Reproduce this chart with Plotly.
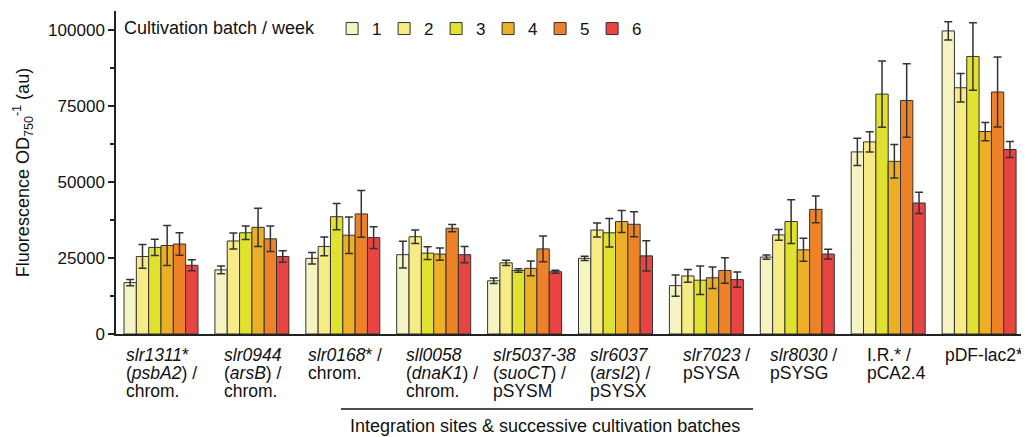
import plotly.graph_objects as go

categories = [
    "slr1311* (psbA2) / chrom.",
    "slr0944 (arsB) / chrom.",
    "slr0168* / chrom.",
    "sll0058 (dnaK1) / chrom.",
    "slr5037-38 (suoCT) / pSYSM",
    "slr6037 (arsI2) / pSYSX",
    "slr7023 / pSYSA",
    "slr8030 / pSYSG",
    "I.R.* / pCA2.4",
    "pDF-lac2*",
]

label_lines = [
    ["<i>slr1311</i>*", "(<i>psbA2</i>) /", "chrom."],
    ["<i>slr0944</i>", "(<i>arsB</i>) /", "chrom."],
    ["<i>slr0168</i>* /", "chrom."],
    ["<i>sll0058</i>", "(<i>dnaK1</i>) /", "chrom."],
    ["<i>slr5037-38</i>", "(<i>suoCT</i>) /", "pSYSM"],
    ["<i>slr6037</i>", "(<i>arsI2</i>) /", "pSYSX"],
    ["<i>slr7023</i> /", "pSYSA"],
    ["<i>slr8030</i> /", "pSYSG"],
    ["I.R.* /", "pCA2.4"],
    ["pDF-lac2*"],
]

batches = ["1", "2", "3", "4", "5", "6"]

week1 = [16900, 21100, 24900, 26100, 17500, 24900, 15900, 25300, 59900, 99700]
week2 = [25500, 30600, 28800, 32000, 23400, 34200, 19100, 32600, 63200, 81000]
week3 = [28500, 33300, 38600, 26600, 20900, 33300, 17700, 37000, 78900, 91300]
week4 = [29100, 35100, 32500, 26300, 21600, 37000, 18500, 27700, 56800, 66600]
week5 = [29600, 31300, 39500, 34800, 28000, 36100, 20900, 41000, 76800, 79600]
week6 = [22600, 25500, 31700, 26100, 20500, 25700, 17900, 26300, 43100, 60700]

err1 = [1000, 1300, 1900, 4400, 900, 700, 3500, 700, 4500, 3000]
err2 = [3900, 2600, 3100, 2200, 900, 2300, 2100, 1800, 3300, 4700]
err3 = [2700, 2200, 4300, 2100, 600, 4700, 4700, 7200, 10900, 11100]
err4 = [6600, 6300, 6000, 2000, 2400, 3600, 3500, 3800, 5500, 3000]
err5 = [3700, 4200, 7700, 1200, 4200, 4100, 4200, 4400, 12100, 11500]
err6 = [1800, 1900, 3600, 2700, 500, 5000, 2500, 1600, 3500, 2600]

values = [week1, week2, week3, week4, week5, week6]
errors = [err1, err2, err3, err4, err5, err6]
colors = ["#F7F4C4", "#F6EB85", "#E1E22F", "#EDAF26", "#EE8228", "#E84441"]

# left offset of each category label block relative to group centre (category units)
label_offsets = [-0.407, -0.325, -0.41, -0.325, -0.37, -0.30, -0.28, -0.32, -0.26, -0.40]

FONT = "Liberation Sans, Arial, Helvetica, sans-serif"
x_idx = list(range(len(categories)))

fig = go.Figure()
for name, vals, errs, col in zip(batches, values, errors, colors):
    fig.add_trace(go.Bar(
        x=x_idx, y=vals, name=name,
        marker=dict(color=col, line=dict(color="#333333", width=1)),
        error_y=dict(type="data", array=errs, visible=True,
                     color="#333333", thickness=1.5, width=4),
        hovertext=categories,
    ))

annotations = []
line_shifts = [-21, -39, -56.5]
for i, lines in enumerate(label_lines):
    for j, txt in enumerate(lines):
        annotations.append(dict(
            x=i + label_offsets[i], xref="x", xanchor="left",
            y=0, yref="paper", yanchor="middle", yshift=line_shifts[j],
            text=txt, showarrow=False, align="left",
            font=dict(family=FONT, size=17.5, color="#111"),
        ))
annotations.append(dict(
    x=0.472, xref="paper", xanchor="center",
    y=0, yref="paper", yanchor="middle", yshift=-92,
    text="Integration sites & successive cultivation batches", showarrow=False,
    font=dict(family=FONT, size=18, color="#111"),
))

fig.update_layout(
    width=1021, height=429,
    margin=dict(l=108, r=4, t=3, b=103, pad=0),
    paper_bgcolor="white", plot_bgcolor="white",
    barmode="group", bargap=0.186, bargroupgap=0,
    font=dict(family=FONT, size=17, color="#111"),
    showlegend=True,
    legend=dict(
        orientation="h", x=0.0066, xanchor="left", y=1.0, yanchor="top",
        title=dict(text="Cultivation batch / week  ", side="left",
                   font=dict(family=FONT, size=18, color="#111")),
        font=dict(family=FONT, size=17, color="#111"),
        bgcolor="rgba(0,0,0,0)", itemwidth=30, entrywidth=7,
        traceorder="normal",
    ),
    annotations=annotations,
    shapes=[dict(type="line", xref="paper", yref="paper",
                 x0=0.2475, x1=0.7008, y0=-0.232, y1=-0.232,
                 line=dict(color="#111", width=1.5))],
)
fig.update_xaxes(
    range=[-0.495, 9.505], showline=True, linecolor="#222", linewidth=1.5,
    showticklabels=False, ticks="", showgrid=False, zeroline=False,
)
fig.update_yaxes(
    range=[0, 106250], tickvals=[0, 25000, 50000, 75000, 100000],
    tickformat="d", showline=True, linecolor="#222", linewidth=1.5,
    ticks="outside", ticklen=6, tickwidth=1.5, tickcolor="#222",
    minor=dict(tickvals=[12500, 37500, 62500, 87500], ticks="outside",
               ticklen=4, tickwidth=1.5, tickcolor="#222"),
    showgrid=False, zeroline=False,
    tickfont=dict(family=FONT, size=17, color="#111"),
    title=dict(text="Fluorescence OD<sub>750</sub><sup>-1</sup> (au)",
               font=dict(family=FONT, size=18, color="#111"), standoff=14),
)

fig.write_html("out.html")
